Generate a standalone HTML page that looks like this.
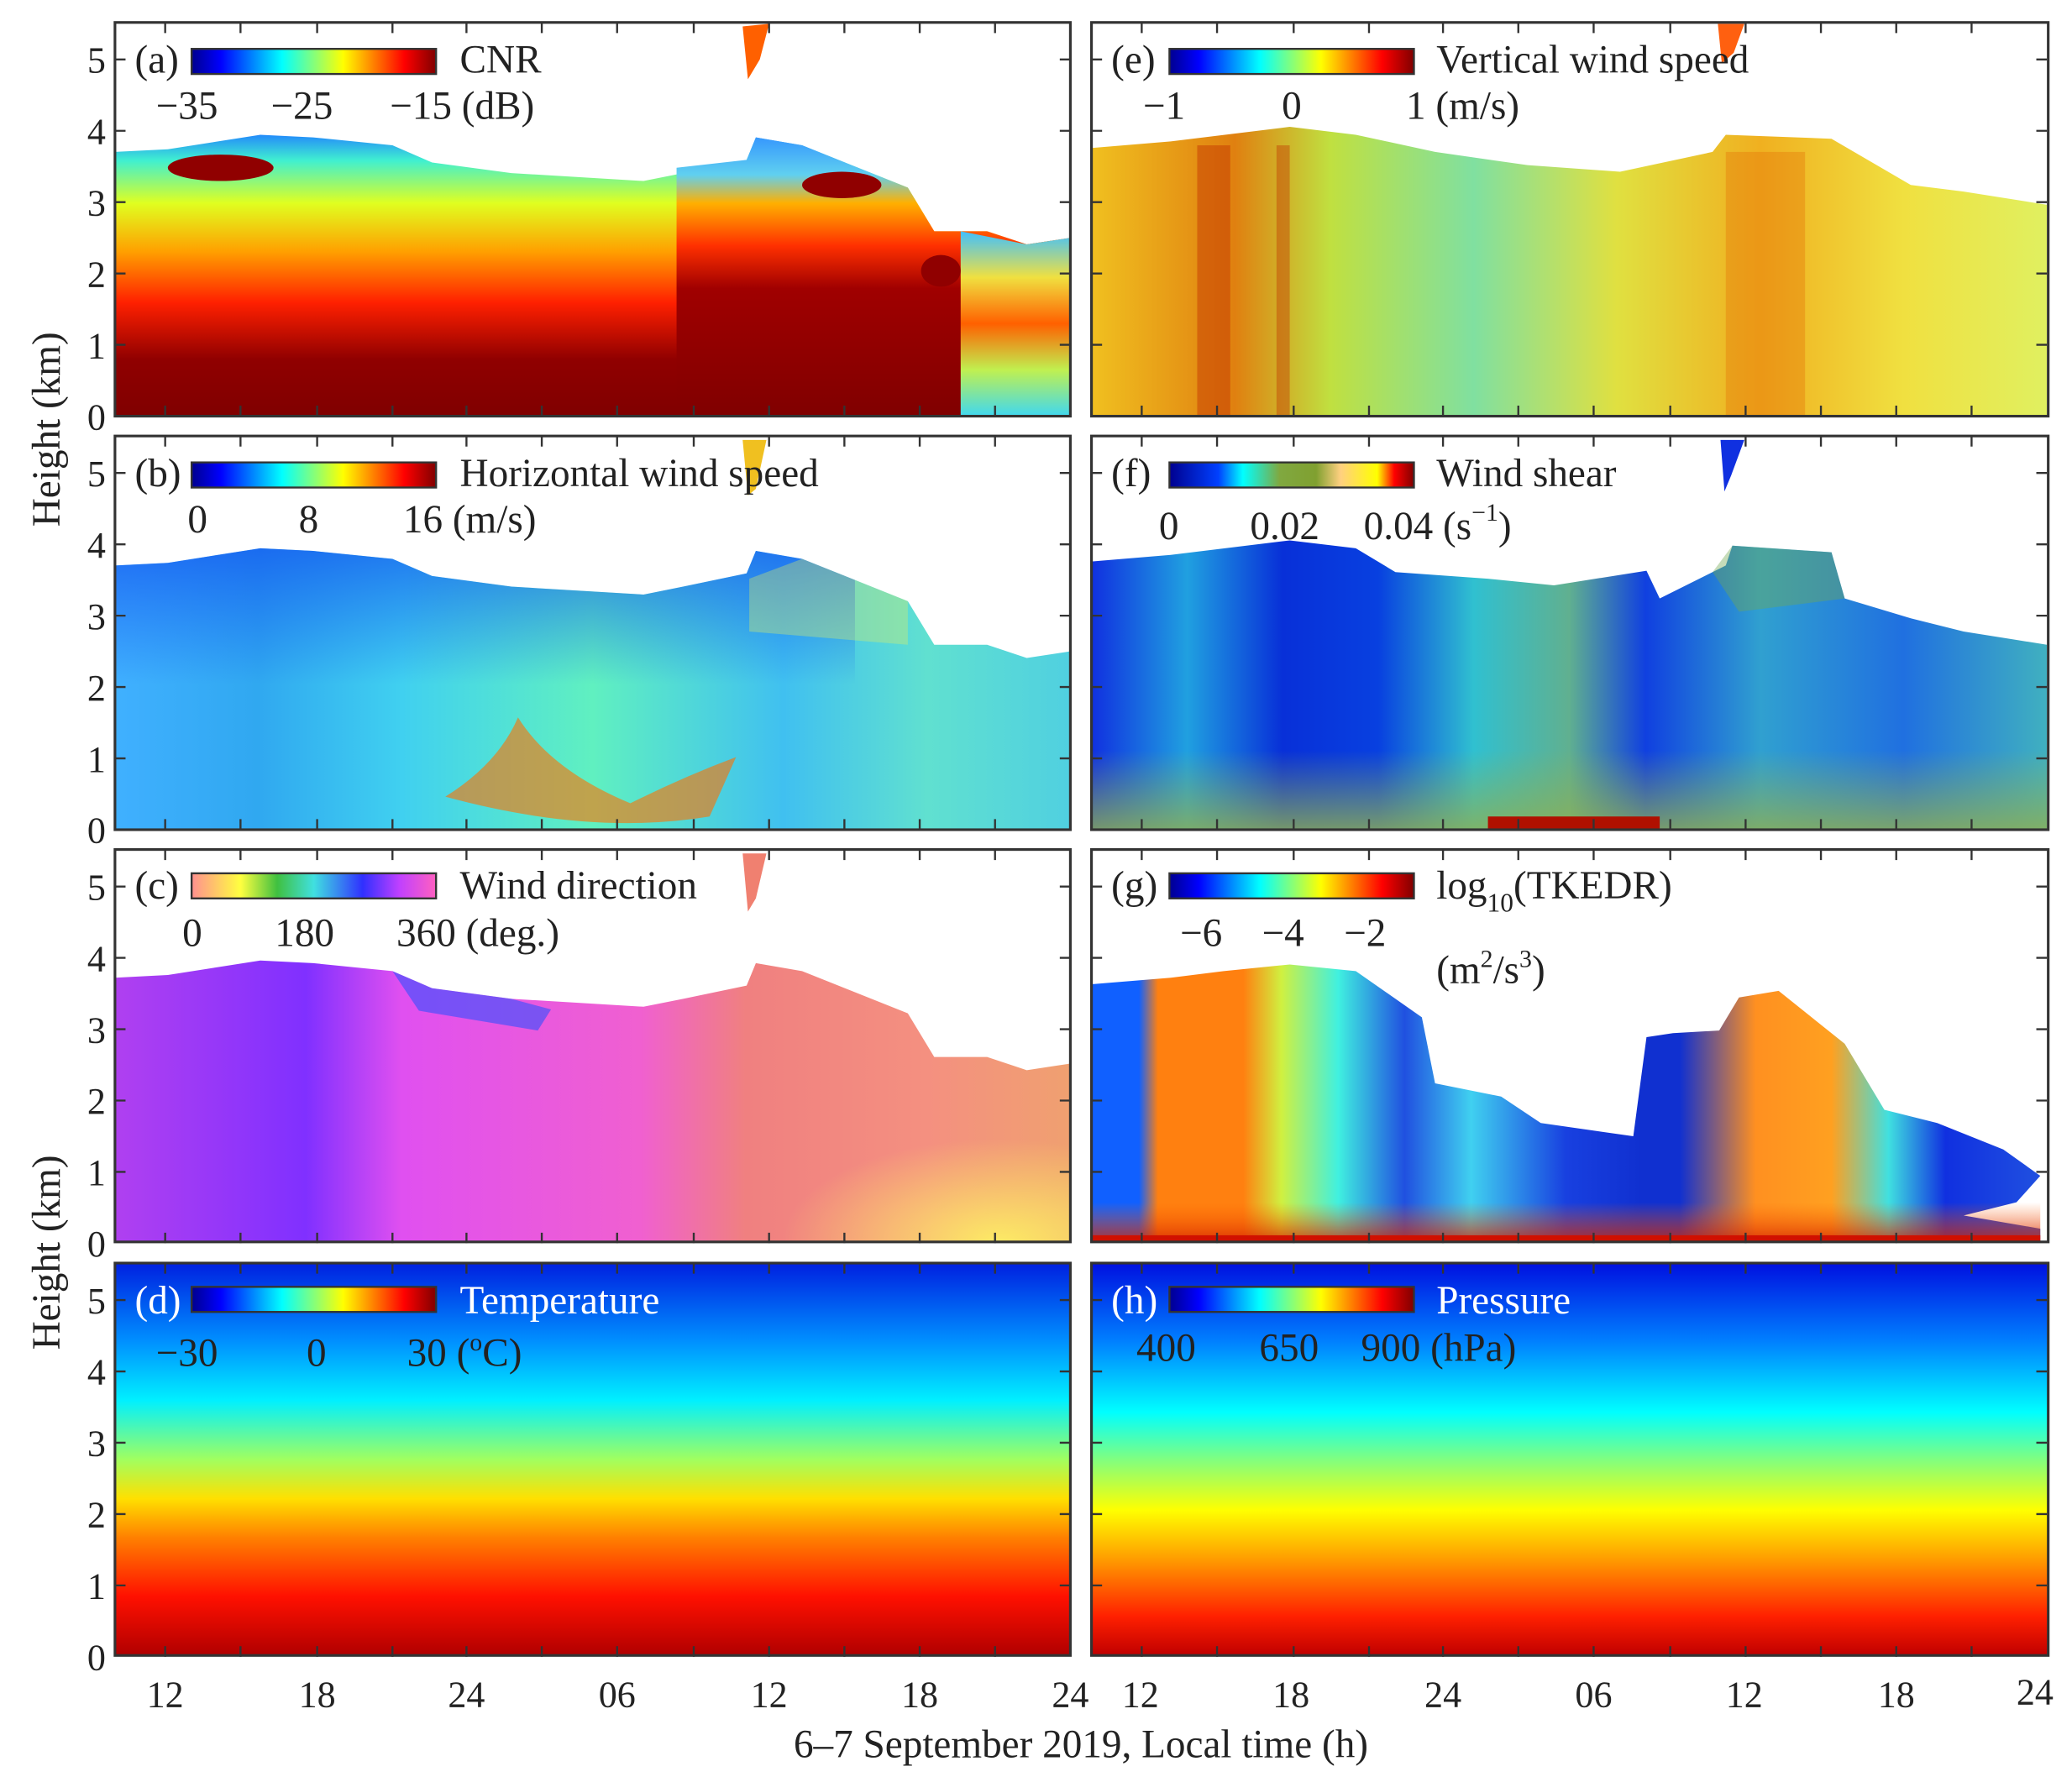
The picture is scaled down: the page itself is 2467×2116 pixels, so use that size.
<!DOCTYPE html>
<html><head><meta charset="utf-8"><style>
html,body{margin:0;padding:0;background:#fff}
svg{display:block}
text{font-family:"Liberation Serif",serif}
</style></head><body>
<svg width="2467" height="2116" viewBox="0 0 1568 1345" preserveAspectRatio="none" xmlns="http://www.w3.org/2000/svg" font-family="Liberation Serif, serif">
<defs>
<linearGradient id="jet" x1="0" x2="1" y1="0" y2="0">
<stop offset="0" stop-color="#00008f"/><stop offset=".12" stop-color="#0000ff"/><stop offset=".37" stop-color="#00ffff"/><stop offset=".62" stop-color="#ffff00"/><stop offset=".87" stop-color="#ff0000"/><stop offset="1" stop-color="#800000"/></linearGradient>
<linearGradient id="hsv" x1="0" x2="1"><stop offset="0" stop-color="#ff9090"/><stop offset=".2" stop-color="#ffff40"/><stop offset=".35" stop-color="#40c040"/><stop offset=".5" stop-color="#40e0e0"/><stop offset=".7" stop-color="#3030ff"/><stop offset=".85" stop-color="#c040ff"/><stop offset="1" stop-color="#ff60c0"/></linearGradient>
<linearGradient id="shear" x1="0" x2="1"><stop offset="0" stop-color="#00008f"/><stop offset=".2" stop-color="#0040ff"/><stop offset=".3" stop-color="#00ffff"/><stop offset=".45" stop-color="#80a840"/><stop offset=".6" stop-color="#80a030"/><stop offset=".7" stop-color="#ffd080"/><stop offset=".85" stop-color="#ffff00"/><stop offset=".92" stop-color="#ff0000"/><stop offset="1" stop-color="#800000"/></linearGradient>
<linearGradient id="gA" gradientUnits="userSpaceOnUse" x1="0" x2="0" y1="0" y2="-215">
<stop offset="0" stop-color="#800000"/><stop offset=".2" stop-color="#900000"/><stop offset=".4" stop-color="#ff2000"/><stop offset=".58" stop-color="#ffa000"/><stop offset=".75" stop-color="#e0ff20"/><stop offset=".9" stop-color="#40f0d0"/><stop offset="1" stop-color="#2080ff"/></linearGradient>
<linearGradient id="gA2" gradientUnits="userSpaceOnUse" x1="0" x2="0" y1="0" y2="-215">
<stop offset="0" stop-color="#800000"/><stop offset=".45" stop-color="#a00000"/><stop offset=".6" stop-color="#ff3000"/><stop offset=".75" stop-color="#ffb000"/><stop offset=".85" stop-color="#60d0f0"/><stop offset="1" stop-color="#3090ff"/></linearGradient>
<linearGradient id="fadeR" x1="0" x2="1"><stop offset="0" stop-color="#fff" stop-opacity="0"/><stop offset="1" stop-color="#fff" stop-opacity="1"/></linearGradient>
<linearGradient id="gA3" gradientUnits="userSpaceOnUse" x1="0" x2="0" y1="0" y2="-140">
<stop offset="0" stop-color="#40d8f0"/><stop offset=".25" stop-color="#c0f050"/><stop offset=".5" stop-color="#ff6000"/><stop offset=".75" stop-color="#f0e040"/><stop offset="1" stop-color="#40c0ff"/></linearGradient>
<linearGradient id="gB" x1="0" x2="1">
<stop offset="0" stop-color="#40b0ff"/><stop offset=".15" stop-color="#30a8f0"/><stop offset=".3" stop-color="#40d0f0"/><stop offset=".5" stop-color="#60f0c0"/><stop offset=".7" stop-color="#40c0f0"/><stop offset=".85" stop-color="#60e0d0"/><stop offset="1" stop-color="#50d0e0"/></linearGradient>
<linearGradient id="gBtop" gradientUnits="userSpaceOnUse" x1="0" x2="0" y1="-215" y2="-110"><stop offset="0" stop-color="#1050f0" stop-opacity=".7"/><stop offset="1" stop-color="#1050f0" stop-opacity="0"/></linearGradient>
<linearGradient id="gC" x1="0" x2="1">
<stop offset="0" stop-color="#b040f0"/><stop offset=".2" stop-color="#8030ff"/><stop offset=".3" stop-color="#e050f0"/><stop offset=".55" stop-color="#f060d0"/><stop offset=".66" stop-color="#f08080"/><stop offset=".85" stop-color="#f49080"/><stop offset="1" stop-color="#f0a070"/></linearGradient>
<radialGradient id="yel" cx=".8" cy="1" r=".6"><stop offset="0" stop-color="#ffff60" stop-opacity=".8"/><stop offset="1" stop-color="#ffff60" stop-opacity="0"/></radialGradient>
<linearGradient id="gE" x1="0" x2="1">
<stop offset="0" stop-color="#f0c020"/><stop offset=".15" stop-color="#e08010"/><stop offset=".25" stop-color="#c0e040"/><stop offset=".4" stop-color="#80e0a0"/><stop offset=".55" stop-color="#e0e040"/><stop offset=".7" stop-color="#f0b020"/><stop offset=".85" stop-color="#f0e040"/><stop offset="1" stop-color="#e0f060"/></linearGradient>
<linearGradient id="gF" x1="0" x2="1">
<stop offset="0" stop-color="#1030e0"/><stop offset=".1" stop-color="#20a0e0"/><stop offset=".2" stop-color="#0830d8"/><stop offset=".3" stop-color="#0840e0"/><stop offset=".4" stop-color="#30c0d0"/><stop offset=".5" stop-color="#60b090"/><stop offset=".58" stop-color="#1040e0"/><stop offset=".7" stop-color="#30a0d0"/><stop offset=".85" stop-color="#2070e0"/><stop offset="1" stop-color="#40b0c0"/></linearGradient>
<linearGradient id="gFb" gradientUnits="userSpaceOnUse" x1="0" x2="0" y1="0" y2="-60"><stop offset="0" stop-color="#90b050" stop-opacity=".8"/><stop offset="1" stop-color="#90b050" stop-opacity="0"/></linearGradient>
<linearGradient id="gG" x1="0" x2="1">
<stop offset="0" stop-color="#1060ff"/><stop offset=".05" stop-color="#1060ff"/><stop offset=".07" stop-color="#ff8010"/><stop offset=".16" stop-color="#ff8010"/><stop offset=".2" stop-color="#d0f040"/><stop offset=".26" stop-color="#40f0e0"/><stop offset=".33" stop-color="#2050e0"/><stop offset=".4" stop-color="#40d0f0"/><stop offset=".5" stop-color="#1840e0"/><stop offset=".58" stop-color="#1030d0"/><stop offset=".62" stop-color="#1030d0"/><stop offset=".7" stop-color="#ff9020"/><stop offset=".78" stop-color="#ffa020"/><stop offset=".84" stop-color="#40e0e0"/><stop offset=".9" stop-color="#1030e0"/><stop offset="1" stop-color="#2050e0"/></linearGradient>
<linearGradient id="gD" gradientUnits="userSpaceOnUse" x1="0" x2="0" y1="1253" y2="956">
<stop offset="0" stop-color="#b00000"/><stop offset=".15" stop-color="#ff1000"/><stop offset=".3" stop-color="#ff8000"/><stop offset=".4" stop-color="#ffe000"/><stop offset=".5" stop-color="#a0ff60"/><stop offset=".65" stop-color="#00f0ff"/><stop offset=".8" stop-color="#0090ff"/><stop offset="1" stop-color="#0020e0"/></linearGradient>
<linearGradient id="gH" gradientUnits="userSpaceOnUse" x1="0" x2="0" y1="1253" y2="956">
<stop offset="0" stop-color="#c00000"/><stop offset=".1" stop-color="#ff2000"/><stop offset=".25" stop-color="#ffa000"/><stop offset=".37" stop-color="#ffff00"/><stop offset=".5" stop-color="#80ff80"/><stop offset=".62" stop-color="#00ffff"/><stop offset=".8" stop-color="#0080ff"/><stop offset="1" stop-color="#0010e0"/></linearGradient>
<linearGradient id="bot" gradientUnits="userSpaceOnUse" x1="0" x2="0" y1="0" y2="-30"><stop offset="0" stop-color="#d02000" stop-opacity=".8"/><stop offset="1" stop-color="#ff6000" stop-opacity="0"/></linearGradient>
</defs>

<!-- Panel a -->
<g transform="translate(87,315)">
<path d="M0,-200 L40,-202 L110,-213 L150,-211 L210,-205 L240,-192 L300,-184 L400,-178 L430,-184 L478,-194 L485,-211 L520,-205 L560,-189 L600,-173 L620,-140 L660,-140 L690,-130 L723,-135 L723,0 L0,0Z" fill="url(#gA)"/>
<path d="M300,-184 L400,-178 L430,-184 L478,-194 L485,-211 L520,-205 L560,-189 L600,-173 L620,-140 L660,-140 L690,-130 L723,-135 L723,0 L300,0Z" fill="url(#gA2)" opacity=".0"/>
<path d="M425,-188 L478,-194 L485,-211 L520,-205 L560,-189 L600,-173 L620,-140 L660,-140 L690,-130 L723,-135 L723,0 L425,0Z" fill="url(#gA2)"/>
<path d="M640,-140 L690,-130 L723,-135 L723,0 L640,0Z" fill="url(#gA3)"/>
<ellipse cx="80" cy="-188" rx="40" ry="10" fill="#900000"/>
<ellipse cx="550" cy="-175" rx="30" ry="10" fill="#900000"/>
<ellipse cx="625" cy="-110" rx="15" ry="12" fill="#900000"/>
</g>
<!-- Panel b -->
<g transform="translate(87,628)">
<path d="M0,-200 L40,-202 L110,-213 L150,-211 L210,-205 L240,-192 L300,-184 L400,-178 L430,-184 L478,-194 L485,-211 L520,-205 L560,-189 L600,-173 L620,-140 L660,-140 L690,-130 L723,-135 L723,0 L0,0Z" fill="url(#gB)"/>
<path d="M0,-200 L40,-202 L110,-213 L150,-211 L210,-205 L240,-192 L300,-184 L400,-178 L430,-184 L478,-194 L485,-211 L520,-205 L560,-189 L560,-100 L0,-100Z" fill="url(#gBtop)"/>
<path d="M250,-25 Q290,-50 305,-85 Q330,-45 390,-20 Q430,-40 470,-55 L450,-10 Q360,5 250,-25Z" fill="#ff7000" opacity=".6"/>
<path d="M480,-190 L520,-205 L560,-189 L600,-173 L600,-140 L480,-150Z" fill="#e0f060" opacity=".35"/>
</g>
<!-- Panel c -->
<g transform="translate(87,940)">
<path d="M0,-200 L40,-202 L110,-213 L150,-211 L210,-205 L240,-192 L300,-184 L400,-178 L430,-184 L478,-194 L485,-211 L520,-205 L560,-189 L600,-173 L620,-140 L660,-140 L690,-130 L723,-135 L723,0 L0,0Z" fill="url(#gC)"/>
<path d="M210,-205 L240,-192 L300,-184 L330,-176 L320,-160 L230,-175Z" fill="#3050ff" opacity=".6"/>
<rect x="450" y="-130" width="273" height="130" fill="url(#yel)"/>
</g>
<!-- Panel d -->
<rect x="87" y="956" width="723" height="297" fill="url(#gD)"/>

<!-- Panel e -->
<g transform="translate(826,315)">
<path d="M0,-203 L60,-208 L150,-219 L200,-213 L260,-200 L330,-190 L400,-185 L470,-200 L480,-213 L560,-210 L620,-175 L660,-170 L723,-160 L723,0 L0,0Z" fill="url(#gE)"/>
<rect x="80" y="-205" width="25" height="205" fill="#c03000" opacity=".45"/>
<rect x="140" y="-205" width="10" height="205" fill="#c03000" opacity=".4"/>
<rect x="480" y="-200" width="60" height="200" fill="#e06000" opacity=".3"/>
</g>
<!-- Panel f -->
<g transform="translate(826,628)">
<path d="M0,-203 L60,-208 L150,-219 L200,-213 L230,-195 L300,-190 L350,-185 L420,-196 L430,-175 L480,-200 L485,-215 L560,-210 L570,-175 L620,-160 L660,-150 L723,-140 L723,0 L0,0Z" fill="url(#gF)"/>
<rect x="0" y="-60" width="723" height="60" fill="url(#gFb)"/>
<rect x="300" y="-10" width="130" height="10" fill="#b01000"/>
<path d="M470,-195 L485,-215 L560,-210 L570,-175 L490,-165Z" fill="#70a850" opacity=".4"/>
</g>
<!-- Panel g -->
<g transform="translate(826,940)">
<path d="M0,-195 L60,-200 L100,-205 L150,-210 L200,-205 L250,-170 L260,-120 L310,-110 L340,-90 L410,-80 L420,-155 L440,-158 L475,-160 L490,-185 L520,-190 L570,-150 L600,-100 L640,-90 L690,-70 L718,-50 L700,-30 L660,-20 L718,-10 L718,0 L0,0Z" fill="url(#gG)"/>
<path d="M0,-30 H718 V0 H0Z" fill="url(#bot)"/>
<rect x="0" y="-5" width="718" height="5" fill="#d01000"/>
</g>
<!-- Panel h -->
<rect x="826" y="956" width="724" height="297" fill="url(#gH)"/>

<!-- small blips above -->
<path d="M562,20 L582,18 L575,45 L566,60Z" fill="#ff6000"/>
<path d="M1300,18 L1320,18 L1312,40 L1303,48Z" fill="#ff6010"/>
<path d="M562,333 L580,333 L572,370 L566,375Z" fill="#f0c020"/>
<path d="M1302,333 L1320,333 L1310,360 L1305,372Z" fill="#1030e0"/>
<path d="M562,646 L580,646 L572,680 L566,690Z" fill="#f08070"/>

<!-- frames -->
<g fill="none" stroke="#333" stroke-width="2">
<rect x="87" y="17" width="723" height="298"/><rect x="87" y="330" width="723" height="298"/><rect x="87" y="643" width="723" height="297"/><rect x="87" y="956" width="723" height="297"/>
<rect x="826" y="17" width="724" height="298"/><rect x="826" y="330" width="724" height="298"/><rect x="826" y="643" width="724" height="297"/><rect x="826" y="956" width="724" height="297"/>
</g>
<!-- ticks -->
<g stroke="#333" stroke-width="1.5" id="ticks">
<path d="M125,17v8M182,17v8M240,17v8M297,17v8M353,17v8M410,17v8M467,17v8M525,17v8M582,17v8M639,17v8M696,17v8M753,17v8
M125,315v-8M182,315v-8M240,315v-8M297,315v-8M353,315v-8M410,315v-8M467,315v-8M525,315v-8M582,315v-8M639,315v-8M696,315v-8M753,315v-8
M87,45h8M87,99h8M87,153h8M87,207h8M87,261h8M810,45h-8M810,99h-8M810,153h-8M810,207h-8M810,261h-8"/>
</g>
<use href="#ticks" transform="translate(0,313)"/>
<use href="#ticks" transform="translate(0,626)"/>
<use href="#ticks" transform="translate(0,939)"/>
<use href="#ticks" transform="translate(739,0)"/>
<use href="#ticks" transform="translate(739,313)"/>
<use href="#ticks" transform="translate(739,626)"/>
<use href="#ticks" transform="translate(739,939)"/>

<!-- y labels -->
<g font-size="28" text-anchor="end" fill="#222" id="yl" font-family="Liberation Serif, serif">
<text x="80" y="55">5</text><text x="80" y="109">4</text><text x="80" y="163">3</text><text x="80" y="217">2</text><text x="80" y="271">1</text><text x="80" y="325">0</text>
</g>
<use href="#yl" transform="translate(0,313)"/>
<use href="#yl" transform="translate(0,626)"/>
<use href="#yl" transform="translate(0,939)"/>
<g font-family="Liberation Serif, serif" fill="#222">
<text font-size="30" text-anchor="middle" transform="translate(45,325) rotate(-90)">Height (km)</text>
<text font-size="30" text-anchor="middle" transform="translate(45,948) rotate(-90)">Height (km)</text>
</g>

<!-- x labels -->
<g font-size="28" text-anchor="middle" fill="#222" font-family="Liberation Serif, serif">
<text x="125" y="1292">12</text><text x="240" y="1292">18</text><text x="353" y="1292">24</text><text x="467" y="1292">06</text><text x="582" y="1292">12</text><text x="696" y="1292">18</text><text x="810" y="1292">24</text>
<text x="863" y="1292">12</text><text x="977" y="1292">18</text><text x="1092" y="1292">24</text><text x="1206" y="1292">06</text><text x="1320" y="1292">12</text><text x="1435" y="1292">18</text><text x="1540" y="1290">24</text>
<text x="818" y="1330" font-size="30">6–7 September 2019, Local time (h)</text>
</g>

<!-- colorbars -->
<g stroke="#333" stroke-width="1.5">
<rect x="145" y="37" width="185" height="19" fill="url(#jet)"/>
<rect x="145" y="350" width="185" height="19" fill="url(#jet)"/>
<rect x="145" y="661" width="185" height="19" fill="url(#hsv)"/>
<rect x="145" y="974" width="185" height="19" fill="url(#jet)"/>
<rect x="885" y="37" width="185" height="19" fill="url(#jet)"/>
<rect x="885" y="350" width="185" height="19" fill="url(#shear)"/>
<rect x="885" y="661" width="185" height="19" fill="url(#jet)"/>
<rect x="885" y="974" width="185" height="19" fill="url(#jet)"/>
</g>
<g font-size="30" fill="#222" font-family="Liberation Serif, serif">
<text x="102" y="55">(a)</text><text x="348" y="55">CNR</text>
<text x="118" y="90">−35</text><text x="205" y="90">−25</text><text x="295" y="90">−15 (dB)</text>
<text x="102" y="368">(b)</text><text x="348" y="368">Horizontal wind speed</text>
<text x="142" y="403">0</text><text x="226" y="403">8</text><text x="305" y="403">16 (m/s)</text>
<text x="102" y="680">(c)</text><text x="348" y="680">Wind direction</text>
<text x="138" y="716">0</text><text x="208" y="716">180</text><text x="300" y="716">360 (deg.)</text>
<text x="118" y="1034">−30</text><text x="232" y="1034">0</text><text x="308" y="1034">30 (<tspan font-size="19" dy="-12">o</tspan><tspan dy="12">C)</tspan></text>
<text x="841" y="55">(e)</text><text x="1087" y="55">Vertical wind speed</text>
<text x="865" y="90">−1</text><text x="970" y="90">0</text><text x="1064" y="90">1 (m/s)</text>
<text x="841" y="368">(f)</text><text x="1087" y="368">Wind shear</text>
<text x="877" y="408">0</text><text x="946" y="408">0.02</text><text x="1032" y="408">0.04 (s<tspan font-size="19" dy="-14">−1</tspan><tspan dy="14">)</tspan></text>
<text x="841" y="680">(g)</text><text x="1087" y="680">log<tspan font-size="20" dy="10">10</tspan><tspan dy="-10">(TKEDR)</tspan></text>
<text x="893" y="716">−6</text><text x="955" y="716">−4</text><text x="1017" y="716">−2</text>
<text x="1087" y="744">(m<tspan font-size="19" dy="-12">2</tspan><tspan dy="12">/s</tspan><tspan font-size="19" dy="-12">3</tspan><tspan dy="12">)</tspan></text>
<text x="860" y="1030">400</text><text x="953" y="1030">650</text><text x="1030" y="1030">900 (hPa)</text>
</g>
<g font-size="30" fill="#fff" font-family="Liberation Serif, serif">
<text x="102" y="994">(d)</text><text x="348" y="994">Temperature</text>
<text x="841" y="994">(h)</text><text x="1087" y="994">Pressure</text>
</g>
</svg>
</body></html>
